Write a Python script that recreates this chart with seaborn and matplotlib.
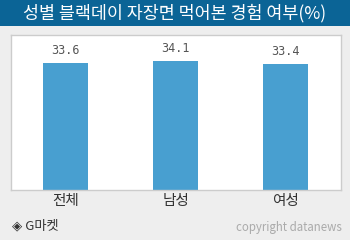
import matplotlib
matplotlib.use("Agg")
import matplotlib.pyplot as plt
import seaborn as sns
import pandas as pd
from matplotlib.patches import Rectangle

categories = ["전체", "남성", "여성"]
values = [33.6, 34.1, 33.4]
title = "성별 블랙데이 자장면 먹어본 경험 여부(%)"
source = "◈ G마켓"
credit = "copyright datanews"

sns.set_theme(style="white")
plt.rcParams['font.family'] = ['Noto Sans CJK KR', 'DejaVu Sans']

df = pd.DataFrame({"cat": categories, "val": values})

fig = plt.figure(figsize=(3.5, 2.4), dpi=100)
fig.patch.set_facecolor("#eeeeee")

# title bar
fig.patches.append(Rectangle((0, 1 - 26/240), 1, 26/240, transform=fig.transFigure,
                             facecolor="#0b6496", edgecolor="none", zorder=0))
fig.text(0.5, 1 - 13/240, title, color="white", fontsize=12.5, ha="center", va="center")

ax = fig.add_axes([10.5/350, 50/240, 330/350, 155/240])
ax.set_facecolor("white")
sns.barplot(data=df, x="cat", y="val", color="#489fd0", width=0.41, ax=ax,
            saturation=1, edgecolor="none")
ax.set_xlim(-0.5, 2.5)
ax.set_ylim(0, 41)
ax.set_yticks([])
ax.set_xlabel("")
ax.set_ylabel("")
for s in ax.spines.values():
    s.set_color("#cccccc")
    s.set_linewidth(1)
ax.set_xticks([0, 1, 2])
ax.set_xticklabels(categories, color="#333333", fontsize=10.5)
ax.tick_params(axis="x", which="major", length=0, pad=3)
ax.set_xticks([0.5, 1.5], minor=True)
ax.tick_params(axis="x", which="minor", direction="in", length=4, color="#999999", width=0.8)

for i, v in enumerate(values):
    ax.text(i, v + 1.6, f"{v}", ha="center", va="bottom", color="#555555",
            fontsize=8.5, family="DejaVu Sans Mono")

fig.text(12/350, 1 - 226/240, source, color="#333333", fontsize=9.5, ha="left", va="center")
fig.text(342/350, 1 - 228/240, credit, color="#aaaaaa", fontsize=8.3, ha="right", va="center")

fig.savefig("out.png", dpi=100, facecolor=fig.get_facecolor())
